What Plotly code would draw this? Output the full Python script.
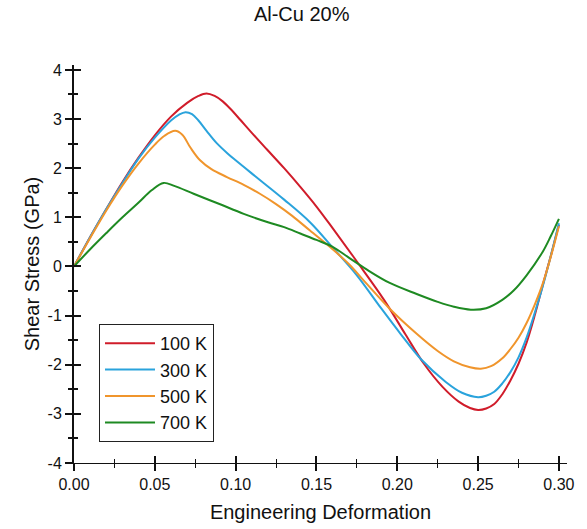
import plotly.graph_objects as go

# ---- data ----
x_100 = [0, 0.01, 0.02, 0.03, 0.04, 0.05, 0.06, 0.07, 0.077, 0.082, 0.087, 0.092, 0.097, 0.103,
         0.11, 0.1194, 0.13, 0.14, 0.15, 0.16, 0.175, 0.192, 0.205, 0.2165, 0.228, 0.238, 0.245,
         0.25, 0.255, 0.26, 0.265, 0.27, 0.275, 0.28, 0.285, 0.29, 0.295, 0.30]
y_100 = [0, 0.6, 1.17, 1.72, 2.22, 2.67, 3.05, 3.33, 3.47, 3.52, 3.47, 3.36, 3.2, 2.98,
         2.72, 2.38, 2.0, 1.62, 1.22, 0.78, 0.1, -0.69, -1.38, -1.98, -2.45, -2.75, -2.88,
         -2.92, -2.89, -2.8, -2.6, -2.32, -1.98, -1.55, -1.0, -0.38, 0.22, 0.85]

x_300 = [0, 0.01, 0.02, 0.03, 0.04, 0.05, 0.06, 0.065, 0.069, 0.073, 0.077, 0.082, 0.088,
         0.095, 0.10, 0.115, 0.13, 0.146, 0.1607, 0.175, 0.19, 0.202, 0.215, 0.23, 0.24, 0.25,
         0.255, 0.26, 0.265, 0.27, 0.275, 0.28, 0.285, 0.29, 0.295, 0.30]
y_300 = [0, 0.6, 1.17, 1.7, 2.2, 2.62, 2.97, 3.09, 3.14, 3.1, 2.97, 2.76, 2.52,
         2.3, 2.16, 1.76, 1.36, 0.9, 0.36, -0.18, -0.85, -1.37, -1.9, -2.35, -2.57, -2.66,
         -2.63, -2.55, -2.38, -2.15, -1.85, -1.45, -0.95, -0.4, 0.22, 0.88]

x_500 = [0, 0.01, 0.02, 0.03, 0.04, 0.05, 0.056, 0.0626, 0.067, 0.072, 0.078, 0.085, 0.0946,
         0.105, 0.115, 0.125, 0.135, 0.146, 0.16, 0.17, 0.181, 0.195, 0.212, 0.225, 0.235,
         0.245, 0.2517, 0.258, 0.265, 0.27, 0.275, 0.28, 0.285, 0.29, 0.295, 0.30]
y_500 = [0, 0.58, 1.14, 1.65, 2.1, 2.48, 2.66, 2.76, 2.68, 2.42, 2.16, 1.98, 1.82,
         1.66, 1.48, 1.27, 1.03, 0.73, 0.35, 0.05, -0.35, -0.85, -1.37, -1.72, -1.93,
         -2.05, -2.08, -2.03, -1.87, -1.68, -1.45, -1.15, -0.78, -0.35, 0.2, 0.82]

x_700 = [0, 0.01, 0.02, 0.03, 0.04, 0.048, 0.0554, 0.062, 0.074, 0.09, 0.105, 0.12, 0.13,
         0.14, 0.15, 0.16, 0.17, 0.181, 0.195, 0.212, 0.225, 0.235, 0.2455, 0.255, 0.265,
         0.272, 0.28, 0.29, 0.295, 0.30]
y_700 = [0, 0.35, 0.68, 1.0, 1.3, 1.55, 1.70, 1.64, 1.48, 1.27, 1.07, 0.9, 0.8,
         0.67, 0.54, 0.4, 0.18, -0.06, -0.33, -0.56, -0.72, -0.82, -0.88, -0.85, -0.68,
         -0.49, -0.18, 0.3, 0.62, 0.97]

series_names = ["100 K", "300 K", "500 K", "700 K"]
series_colors = ["#d01c2a", "#2aa3dc", "#f0952c", "#1e8a22"]

x_ticks = [0.00, 0.05, 0.10, 0.15, 0.20, 0.25, 0.30]
x_ticktext = ["0.00", "0.05", "0.10", "0.15", "0.20", "0.25", "0.30"]
y_ticks = [-4, -3, -2, -1, 0, 1, 2, 3, 4]
y_ticktext = ["-4", "-3", "-2", "-1", "0", "1", "2", "3", "4"]

FONT = "Liberation Sans, Arial, sans-serif"

fig = go.Figure()
for xs, ys, name, col in zip([x_100, x_300, x_500, x_700], [y_100, y_300, y_500, y_700],
                             series_names, series_colors):
    fig.add_trace(go.Scatter(x=xs, y=ys, mode="lines", name=name,
                             line=dict(color=col, width=2, shape="spline", smoothing=1.0)))

# invisible copy on the overlay axes so that the inner tick marks get drawn
fig.add_trace(go.Scatter(x=x_700, y=y_700, xaxis="x2", yaxis="y2", mode="lines",
                         line=dict(width=0, color="rgba(0,0,0,0)"), showlegend=False,
                         hoverinfo="skip"))

xr = [0, 0.305]
yr = [-4, 4.1]

fig.update_layout(
    width=587, height=529,
    margin=dict(l=74, r=20, t=65, b=66),
    paper_bgcolor="white", plot_bgcolor="white",
    font=dict(family=FONT, color="#111", size=16),
    title=dict(text="Al-Cu 20%", x=0.514, xanchor="center", y=1 - 14 / 529, yanchor="middle",
               yref="container", font=dict(size=20, color="#111")),
    showlegend=True,
    legend=dict(x=(99 - 74) / 493, y=(463 - 324) / 398, xanchor="left", yanchor="top",
                bordercolor="#222", borderwidth=1, bgcolor="white", itemwidth=50,
                entrywidth=92, entrywidthmode="pixels",
                font=dict(size=18, color="#111"), tracegroupgap=0),
    xaxis=dict(range=xr, tickvals=x_ticks, ticktext=x_ticktext, ticks="outside", ticklen=7,
               tickwidth=1.5, tickcolor="#111", showline=True, linecolor="#111", linewidth=1,
               showgrid=False, zeroline=False, tickfont=dict(size=16), automargin=False,
               minor=dict(ticks="outside", ticklen=4, dtick=0.025, tick0=0, tickcolor="#111", tickwidth=1),
               title=dict(text="Engineering Deformation", font=dict(size=20), standoff=12)),
    yaxis=dict(range=yr, tickvals=y_ticks, ticktext=y_ticktext, ticks="outside", ticklen=7, tickwidth=2,
               tickcolor="#111", showline=True, linecolor="#111", linewidth=2,
               showgrid=False, zeroline=False, tickfont=dict(size=16),
               minor=dict(ticks="outside", ticklen=4, dtick=0.5, tick0=0, tickcolor="#111", tickwidth=2),
               title=dict(text="Shear Stress (GPa)", font=dict(size=20), standoff=3)),
    xaxis2=dict(range=xr, overlaying="x", anchor="y", side="bottom", tickvals=x_ticks,
                ticks="inside", ticklen=7, tickwidth=1.5, tickcolor="#111",
                showticklabels=False, showline=False, showgrid=False, zeroline=False,
                minor=dict(ticks="inside", ticklen=4, dtick=0.025, tick0=0, tickcolor="#111", tickwidth=1)),
    yaxis2=dict(range=yr, overlaying="y", anchor="x", side="left", tickvals=y_ticks,
                ticks="inside", ticklen=7, tickwidth=2, tickcolor="#111",
                showticklabels=False, showline=False, showgrid=False, zeroline=False,
                minor=dict(ticks="inside", ticklen=4, dtick=0.5, tick0=0, tickcolor="#111", tickwidth=2)),
)

fig.write_html("out.html")
